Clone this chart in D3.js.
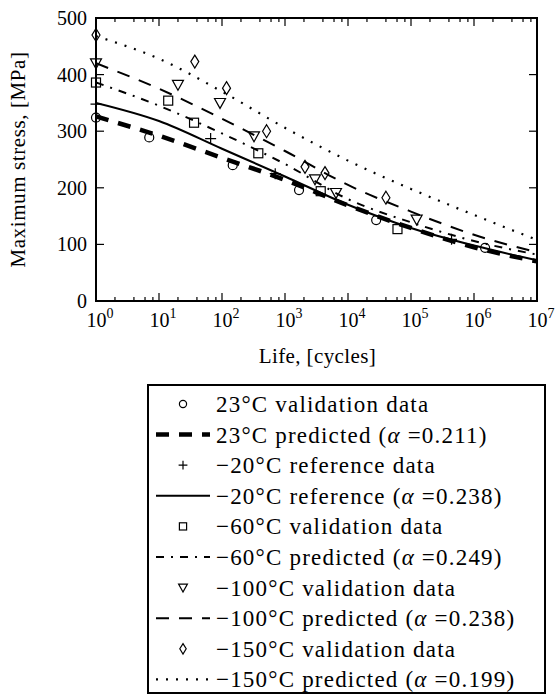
<!DOCTYPE html>
<html>
<head>
<meta charset="utf-8">
<script src="https://cdn.jsdelivr.net/npm/d3@7"></script>
<style>
  body { margin: 0; background: #fff; }
  text { font-family: "Liberation Serif", "DejaVu Serif", serif; fill: #000; }
</style>
</head>
<body>
<div id="chart"></div>
<script>
// predicted curves, read at each decade of life
var lifeDecades = [1, 1e1, 1e2, 1e3, 1e4, 1e5, 1e6, 1e7];
var pred23 = [326, 292, 253, 214, 169, 129, 95, 70];
var ref20 = [350, 318, 269, 220, 170, 129, 98, 72];
var pred60 = [386, 345, 296, 242, 180, 139, 106, 82];
var pred100 = [420, 375, 322, 265, 205, 158, 117, 86];
var pred150 = [468, 428, 370, 306, 248, 198, 152, 108];

// test points
var val23N = [1, 7, 148, 1670, 2.8e4, 1.5e6];
var val23S = [324, 289, 240, 196, 143, 94];
var ref20N = [1, 66, 700, 4.4e5];
var ref20S = [348, 287, 225, 109];
var val60N = [1, 14, 36, 377, 3690, 6.1e4];
var val60S = [386, 354, 315, 261, 194, 127];
var val100N = [1, 20, 93, 322, 2993, 6450, 1.23e5];
var val100S = [420, 382, 350, 291, 215, 191, 144];
var val150N = [1, 37, 118, 510, 2077, 4314, 4e4];
var val150S = [470, 423, 376, 300, 237, 226, 182.5];

var yTicks = [0, 100, 200, 300, 400, 500];
var xExponents = [0, 1, 2, 3, 4, 5, 6, 7];

var legendLabels = [
  "23°C validation data",
  "23°C predicted (α =0.211)",
  "−20°C reference data",
  "−20°C reference (α =0.238)",
  "−60°C validation data",
  "−60°C predicted (α =0.249)",
  "−100°C validation data",
  "−100°C predicted (α =0.238)",
  "−150°C validation data",
  "−150°C predicted (α =0.199)"
];

var width = 555, height = 698;
var m = { left: 96, right: 537, top: 18, bottom: 301 };

var svg = d3.select("#chart").append("svg")
    .attr("width", width)
    .attr("height", height);

var x = d3.scaleLog().domain([1, 1e7]).range([m.left, m.right]);
var y = d3.scaleLinear().domain([0, 500]).range([m.bottom, m.top]);

// clip for curves
svg.append("clipPath").attr("id", "clip")
    .append("rect")
    .attr("x", m.left).attr("y", m.top)
    .attr("width", m.right - m.left).attr("height", m.bottom - m.top);

// line styles
var styles = {
  thickdash: { w: 4.5, dash: "13,10" },
  solid: { w: 2, dash: null },
  dashdot: { w: 2, dash: "8,7,2,7" },
  dash: { w: 2, dash: "13,10" },
  dot: { w: 2.2, dash: "2,8" }
};

var curves = [
  { vals: pred150, st: styles.dot },
  { vals: pred100, st: styles.dash },
  { vals: pred60, st: styles.dashdot },
  { vals: ref20, st: styles.solid },
  { vals: pred23, st: styles.thickdash }
];

var line = d3.line()
    .x(function (d) { return x(d[0]); })
    .y(function (d) { return y(d[1]); })
    .curve(d3.curveMonotoneX);

var curveG = svg.append("g").attr("clip-path", "url(#clip)");
curves.forEach(function (c) {
  curveG.append("path")
      .datum(lifeDecades.map(function (n, i) { return [n, c.vals[i]]; }))
      .attr("d", line)
      .attr("fill", "none")
      .attr("stroke", "#000")
      .attr("stroke-width", c.st.w)
      .attr("stroke-dasharray", c.st.dash);
});

// marker drawing
function marker(g, type, cx, cy, s) {
  s = s || 1;
  if (type === "circle") {
    g.append("circle").attr("cx", cx).attr("cy", cy).attr("r", 4.5 * s)
        .attr("fill", "none").attr("stroke", "#000").attr("stroke-width", 1.2);
  } else if (type === "plus") {
    var h = 5.5 * s;
    g.append("path").attr("d", "M" + (cx - h) + "," + cy + "H" + (cx + h) + "M" + cx + "," + (cy - h) + "V" + (cy + h))
        .attr("stroke", "#000").attr("stroke-width", 1.2);
  } else if (type === "square") {
    var a = 4.5 * s;
    g.append("rect").attr("x", cx - a).attr("y", cy - a).attr("width", 2 * a).attr("height", 2 * a)
        .attr("fill", "none").attr("stroke", "#000").attr("stroke-width", 1.2);
  } else if (type === "tri") {
    var t = 5.5 * s;
    g.append("path").attr("d", "M" + (cx - t) + "," + (cy - t * 0.8) + "L" + (cx + t) + "," + (cy - t * 0.8) + "L" + cx + "," + (cy + t) + "Z")
        .attr("fill", "none").attr("stroke", "#000").attr("stroke-width", 1.2);
  } else if (type === "diamond") {
    var dw = 4 * s, dh = 6.5 * s;
    g.append("path").attr("d", "M" + cx + "," + (cy - dh) + "L" + (cx + dw) + "," + cy + "L" + cx + "," + (cy + dh) + "L" + (cx - dw) + "," + cy + "Z")
        .attr("fill", "none").attr("stroke", "#000").attr("stroke-width", 1.2);
  }
}

var pointSets = [
  { n: val23N, s: val23S, type: "circle" },
  { n: ref20N, s: ref20S, type: "plus" },
  { n: val60N, s: val60S, type: "square" },
  { n: val100N, s: val100S, type: "tri" },
  { n: val150N, s: val150S, type: "diamond" }
];
var ptG = svg.append("g");
pointSets.forEach(function (p) {
  p.n.forEach(function (n, i) {
    marker(ptG, p.type, x(n), y(p.s[i]));
  });
});

// frame
svg.append("rect")
    .attr("x", m.left).attr("y", m.top)
    .attr("width", m.right - m.left).attr("height", m.bottom - m.top)
    .attr("fill", "none").attr("stroke", "#000").attr("stroke-width", 2);

// ticks, pointing inward on all four sides
var tickG = svg.append("g").attr("stroke", "#000").attr("stroke-width", 1.2);
yTicks.forEach(function (v) {
  var yy = y(v);
  tickG.append("line").attr("x1", m.left).attr("x2", m.left + 8).attr("y1", yy).attr("y2", yy);
  tickG.append("line").attr("x1", m.right).attr("x2", m.right - 8).attr("y1", yy).attr("y2", yy);
});
xExponents.forEach(function (e) {
  var xx = x(Math.pow(10, e));
  tickG.append("line").attr("x1", xx).attr("x2", xx).attr("y1", m.bottom).attr("y2", m.bottom - 8);
  tickG.append("line").attr("x1", xx).attr("x2", xx).attr("y1", m.top).attr("y2", m.top + 8);
  if (e < 7) {
    [2, 4, 6, 8].forEach(function (k) {
      var xm = x(k * Math.pow(10, e));
      tickG.append("line").attr("x1", xm).attr("x2", xm).attr("y1", m.bottom).attr("y2", m.bottom - 4);
      tickG.append("line").attr("x1", xm).attr("x2", xm).attr("y1", m.top).attr("y2", m.top + 4);
    });
  }
});

// tick labels
svg.append("g").selectAll("text")
    .data(yTicks).enter().append("text")
    .attr("x", m.left - 9)
    .attr("y", function (d) { return y(d); })
    .attr("dy", "0.35em")
    .attr("text-anchor", "end")
    .style("font-size", "20px")
    .text(function (d) { return d; });

var xl = svg.append("g").selectAll("text")
    .data(xExponents).enter().append("text")
    .attr("x", function (d) { return x(Math.pow(10, d)) + 4; })
    .attr("y", m.bottom + 26)
    .attr("text-anchor", "middle")
    .style("font-size", "20px");
xl.append("tspan").text("10");
xl.append("tspan").attr("dy", -9).style("font-size", "14px").text(function (d) { return d; });

// axis labels
svg.append("text")
    .attr("x", (m.left + m.right) / 2 + 1)
    .attr("y", 363)
    .attr("text-anchor", "middle")
    .style("font-size", "21px")
    .style("letter-spacing", "0.4px")
    .text("Life, [cycles]");

svg.append("text")
    .attr("transform", "translate(25," + (m.top + m.bottom) / 2 + ")rotate(-90)")
    .attr("text-anchor", "middle")
    .style("font-size", "21px")
    .style("letter-spacing", "0.6px")
    .text("Maximum stress, [MPa]");

// legend
var lg = svg.append("g");
lg.append("rect")
    .attr("x", 148).attr("y", 385)
    .attr("width", 397).attr("height", 308)
    .attr("fill", "#fff").attr("stroke", "#000").attr("stroke-width", 2);

var legendKeys = [
  { type: "circle" }, { st: styles.thickdash },
  { type: "plus" }, { st: styles.solid },
  { type: "square" }, { st: styles.dashdot },
  { type: "tri" }, { st: styles.dash },
  { type: "diamond" }, { st: styles.dot }
];
legendKeys.forEach(function (k, i) {
  var ry = 404 + i * 30.6;
  if (k.type) {
    marker(lg, k.type, 183, ry, 0.8);
  } else {
    lg.append("line")
        .attr("x1", 156).attr("x2", 210).attr("y1", ry).attr("y2", ry)
        .attr("stroke", "#000")
        .attr("stroke-width", k.st.w)
        .attr("stroke-dasharray", k.st.dash);
  }
  var t = lg.append("text")
      .attr("x", 216).attr("y", ry).attr("dy", "0.35em")
      .style("font-size", "23px")
      .style("letter-spacing", "1.2px");
  var lab = legendLabels[i];
  var ai = lab.indexOf("α");
  if (ai < 0) {
    t.text(lab);
  } else {
    t.append("tspan").text(lab.slice(0, ai));
    t.append("tspan").style("font-style", "italic").text("α");
    t.append("tspan").text(lab.slice(ai + 1));
  }
});
</script>
</body>
</html>
